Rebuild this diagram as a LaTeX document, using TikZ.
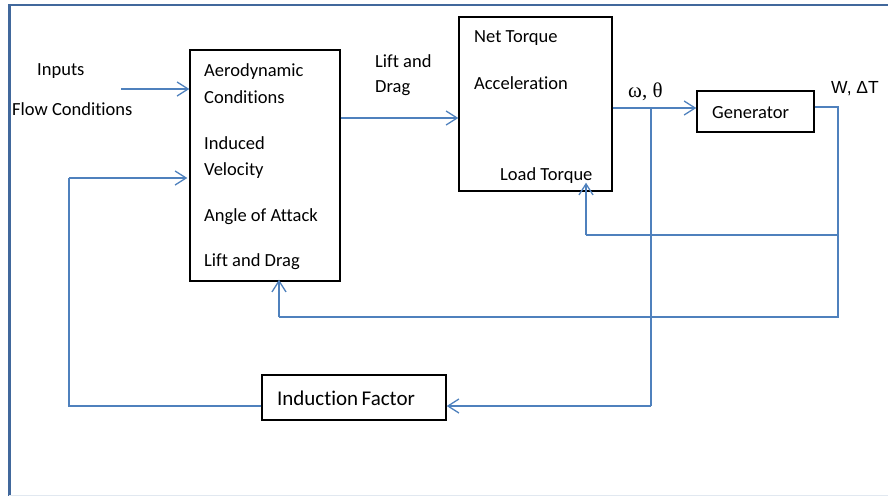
\documentclass[tikz,border=0pt]{standalone}
\usepackage{fontspec}
\setmainfont[Ligatures=NoCommon]{Carlito}
\newfontfamily\serifgr{Liberation Serif}
\newfontfamily\sansar{Liberation Sans}
\usetikzlibrary{arrows.meta}
\definecolor{conn}{HTML}{4F81BD}
\definecolor{frame}{HTML}{41689C}
\tikzset{
  blk/.style={draw=black, line width=1.4pt, inner sep=0pt},
  lbl/.style={anchor=west, inner sep=0pt, yshift=-1.5pt, font=\fontsize{18.5}{21}\selectfont},
  wire/.style={draw=conn, line width=1.5pt},
  arr/.style={wire, -{Straight Barb[length=11pt,width=14pt,line width=1.3pt]}},
}
\begin{document}
\begin{tikzpicture}[x=1pt,y=-1pt]
\useasboundingbox (0,0) rectangle (888,496);
% frame
\draw[frame, line width=2pt] (8,5) -- (888,5);
\draw[frame, line width=3pt] (9.5,5) -- (9.5,496);
\draw[color={rgb,255:red,225;green,232;blue,240}, line width=1pt] (9,495.5) -- (888,495.5);
% boxes
\node[blk, minimum width=150pt, minimum height=231pt] (aero) at (265,165.5) {};
\node[blk, minimum width=153pt, minimum height=174pt] (net) at (535.5,104) {};
\node[blk, minimum width=117pt, minimum height=41pt] (gen) at (755.5,111.5) {};
\node[blk, minimum width=184pt, minimum height=45pt] (ind) at (354,397.5) {};
% texts in aero
\node[lbl] (t1) at (204,70) {Aerodynamic};
\node[lbl] (t2) at (204,96) {Conditions};
\node[lbl] (t3) at (204,142) {Induced};
\node[lbl] (t4) at (204,169) {Velocity};
\node[lbl] (t5) at (204,215) {Angle of Attack};
\node[lbl] (t6) at (204,260) {Lift and Drag};
% texts in net
\node[lbl] (n1) at (474,37) {Net Torque};
\node[lbl] (n2) at (474,82) {Acceleration};
\node[lbl] (n3) at (500,174) {Load Torque};
\node[lbl] (g1) at (712,111) {Generator};
\node[lbl, anchor=center] (i1) at (346,397) {\fontsize{21}{23}\selectfont Induction\,Factor};
% outer labels
\node[lbl] (in1) at (37,70) {Inputs};
\node[lbl] (in2) at (12,108) {Flow Conditions};
\node[lbl] (ld1) at (375,60) {Lift and};
\node[lbl] (ld2) at (375,87) {Drag};
\node[lbl, font=\serifgr\fontsize{21}{23}\selectfont] (om) at (628,90) {ω, θ};
\node[lbl, font=\sansar\fontsize{17.5}{19}\selectfont] (wt) at (831,87) {W, ΔT};
% coordinates
\coordinate (inS) at (121,89);
\coordinate (fbS) at (69,178);
\coordinate (br) at (651,108);
\coordinate (gR) at (838,107);
% connectors
\draw[arr] (inS) -- (aero.west |- inS);
\draw[arr] (aero.east |- 0,118) -- (net.west |- 0,118);
\draw[arr] (net.east |- 0,108) -- (gen.west |- 0,108);
\draw[wire] (br) -- (651,406);
\draw[arr] (651,406) -- (ind.east |- 0,406);
\draw[wire] (ind.west |- 0,406) -- (69,406) -- (fbS);
\draw[arr] (fbS) -- ([xshift=-2pt]aero.west |- fbS);
\draw[wire] (gen.east |- gR) -- (gR) -- (838,317) -- (279,317);
\draw[arr] (279,317) -- ([yshift=2pt]aero.south -| 279,0);
\draw[wire] (838,235) -- (586,235);
\draw[arr] (586,235) -- ([yshift=9pt]net.south -| 586,0);
\end{tikzpicture}
\end{document}
